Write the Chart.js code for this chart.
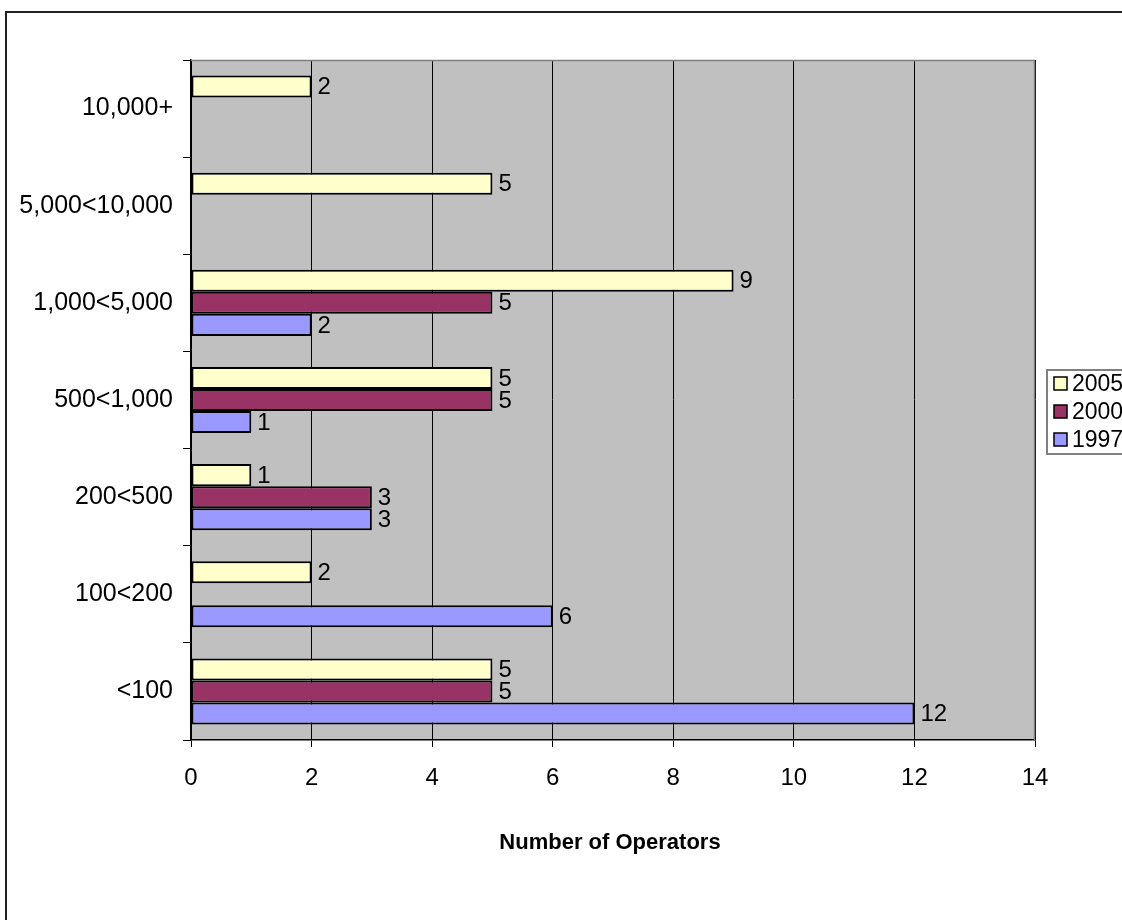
<!DOCTYPE html>
<html>
<head>
<meta charset="utf-8">
<title>Number of Operators by size band</title>
<script src="https://cdn.jsdelivr.net/npm/chart.js@4.4.1/dist/chart.umd.min.js"></script>
<style>
  html, body { margin: 0; padding: 0; background: #fff; }
  canvas { display: block; }
</style>
</head>
<body>
<canvas id="chart" width="1122" height="920"></canvas>
<script>
// Size bands, listed top to bottom
const categories = ['10,000+', '5,000<10,000', '1,000<5,000', '500<1,000', '200<500', '100<200', '<100'];

// Operator counts per band for each survey year
const values2005 = [2, 5, 9, 5, 1, 2, 5];
const values2000 = [null, null, 5, 5, 3, null, 5];
const values1997 = [null, null, 2, 1, 3, 6, 12];

const seriesNames = ['2005', '2000', '1997'];
const seriesColors = ['#FFFFCC', '#993366', '#9999FF'];

// Value axis range and step
const xMin = 0;
const xMax = 14;
const xStep = 2;

const axisTitle = 'Number of Operators';
const FONT = '"Liberation Sans", Arial, sans-serif';

const seriesValues = [values2005, values2000, values1997];

const datasets = seriesNames.map((name, i) => ({
  label: name,
  data: seriesValues[i],
  backgroundColor: seriesColors[i],
  borderColor: '#000',
  borderWidth: 2,
  borderSkipped: false,
  barPercentage: 1.0,
  categoryPercentage: 0.68
}));

// Grey plot background, outer frame, value labels, axis title and legend
const decorations = {
  id: 'decorations',
  beforeDraw(chart) {
    const ctx = chart.ctx;
    const a = chart.chartArea;
    ctx.save();
    ctx.fillStyle = '#fff';
    ctx.fillRect(0, 0, chart.width, chart.height);
    ctx.fillStyle = '#C0C0C0';
    ctx.fillRect(a.left, a.top, a.right - a.left, a.bottom - a.top);
    ctx.strokeStyle = '#222';
    ctx.lineWidth = 2;
    ctx.strokeRect(6, 12, chart.width + 50, chart.height + 50);
    ctx.restore();
  },
  beforeDatasetsDraw(chart) {
    const ctx = chart.ctx;
    const a = chart.chartArea;
    ctx.save();
    ctx.strokeStyle = '#808080';
    ctx.lineWidth = 1.5;
    ctx.beginPath();
    ctx.moveTo(a.left, a.top + 0.5);
    ctx.lineTo(a.right - 0.5, a.top + 0.5);
    ctx.lineTo(a.right - 0.5, a.bottom);
    ctx.stroke();
    ctx.restore();
  },
  afterDatasetsDraw(chart) {
    const ctx = chart.ctx;
    ctx.save();
    ctx.font = '24px ' + FONT;
    ctx.fillStyle = '#000';
    ctx.textAlign = 'left';
    ctx.textBaseline = 'middle';
    chart.data.datasets.forEach((ds, di) => {
      const meta = chart.getDatasetMeta(di);
      meta.data.forEach((bar, i) => {
        const v = ds.data[i];
        if (v === null || v === undefined) return;
        ctx.fillText(String(v), bar.x + 6, bar.y + 1);
      });
    });

    // axis title
    const a = chart.chartArea;
    ctx.font = 'bold 22px ' + FONT;
    ctx.textAlign = 'center';
    ctx.fillText(axisTitle, (a.left + a.right) / 2 - 3, 843);

    // legend
    const boxLeft = 1047, boxTop = 370, boxBottom = 454;
    ctx.strokeStyle = '#808080';
    ctx.lineWidth = 2;
    ctx.strokeRect(boxLeft, boxTop, 200, boxBottom - boxTop);
    const rowY = [384, 412, 440];
    chart.data.datasets.forEach((ds, di) => {
      const y = rowY[di];
      ctx.fillStyle = ds.backgroundColor;
      ctx.fillRect(1054, y - 7, 13, 13);
      ctx.strokeStyle = '#000';
      ctx.lineWidth = 1.5;
      ctx.strokeRect(1054, y - 7, 13, 13);
      ctx.fillStyle = '#000';
      ctx.font = '23px ' + FONT;
      ctx.textAlign = 'left';
      ctx.textBaseline = 'middle';
      ctx.fillText(ds.label, 1072, y + 1);
    });
    ctx.restore();
  }
};

new Chart(document.getElementById('chart'), {
  type: 'bar',
  data: { labels: categories, datasets },
  options: {
    indexAxis: 'y',
    responsive: false,
    animation: false,
    devicePixelRatio: 1,
    layout: { padding: { top: 60, right: 87, bottom: 0, left: 0 } },
    plugins: {
      legend: { display: false },
      tooltip: { enabled: false },
      title: { display: false }
    },
    scales: {
      x: {
        type: 'linear',
        min: xMin,
        max: xMax,
        ticks: {
          stepSize: xStep,
          color: '#000',
          font: { family: FONT, size: 24 },
          padding: 17
        },
        grid: {
          color: '#000',
          lineWidth: 1,
          tickLength: 7,
          drawTicks: true
        },
        border: { color: '#000', width: 1.5 },
        afterFit(scale) { scale.height = 180; }
      },
      y: {
        type: 'category',
        offset: true,
        ticks: {
          color: '#000',
          font: { family: FONT, size: 25 },
          padding: 10
        },
        grid: {
          offset: true,
          drawOnChartArea: false,
          drawTicks: true,
          tickLength: 8,
          color: '#000'
        },
        border: { color: '#000', width: 1.5 },
        afterFit(scale) { scale.width = 191; }
      }
    }
  },
  plugins: [decorations]
});
</script>
</body>
</html>
